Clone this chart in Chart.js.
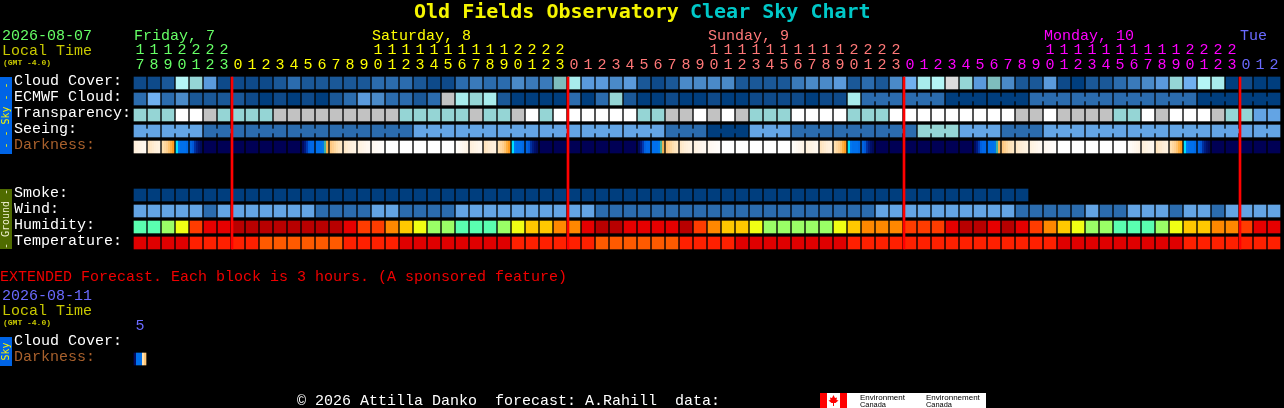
<!DOCTYPE html>
<html><head><meta charset="utf-8">
<style>html,body{margin:0;padding:0;background:#000;overflow:hidden}canvas{display:block}</style>
<script src="https://cdn.jsdelivr.net/npm/chart.js@4"></script></head>
<body><canvas id="c" width="1284" height="408"></canvas>
<script>
// ---- data ----
const hours = [17,18,19,20,21,22,23,0,1,2,3,4,5,6,7,8,9,10,11,12,13,14,15,16,17,18,19,20,21,22,23,0,1,2,3,4,5,6,7,8,9,10,11,12,13,14,15,16,17,18,19,20,21,22,23,0,1,2,3,4,5,6,7,8,9,10,11,12,13,14,15,16,17,18,19,20,21,22,23,0,1,2];
const dayLabels = ['Friday, 7','Saturday, 8','Sunday, 9','Monday, 10','Tue'];
const dayStartCols = [0,17,41,65,79];
const midnightCols = [7,31,55,79];
const rowNames = ['Cloud Cover:','ECMWF Cloud:','Transparency:','Seeing:','Darkness:','Smoke:','Wind:','Humidity:','Temperature:','Cloud Cover:','Darkness:'];
const rowPositions = [0,1,2,3,4,7,8,9,10,16.25,17.25];
const cloudCover = [1,1,2,11,9,6,1,1,1,1,2,3,2,2,2,2,2,3,3,3,2,1,1,3,4,3,3,5,4,4,8,10,6,6,5,6,2,1,2,5,5,5,5,2,2,2,2,4,5,5,6,2,3,2,5,7,10,11,12,9,6,8,5,2,2,6,1,0,2,2,3,4,5,6,9,7,11,10,0,1,0,0];
const ecmwfCloud = [3,7,3,5,2,2,2,2,1,0,1,0,1,0,2,3,6,5,3,3,2,3,13,10,9,10,2,0,0,0,0,3,0,3,9,2,0,0,1,0,0,1,0,0,1,1,1,1,0,1,1,10,3,3,3,3,3,3,0,0,0,0,0,0,3,3,3,3,3,3,3,3,3,3,3,3,0,0,0,0,0,0];
const transparency = [3,3,3,5,5,4,3,3,3,3,4,4,4,4,4,4,4,4,4,3,3,3,3,3,4,3,3,4,5,3,5,5,5,5,5,5,3,3,4,4,5,4,5,4,3,3,3,5,5,5,5,3,3,3,5,5,5,5,5,5,5,5,5,4,4,5,4,4,4,4,3,3,5,4,5,5,5,4,3,3,2,2];
const seeing = [2,2,2,2,2,1,1,1,1,1,1,1,1,1,1,1,1,1,1,1,2,2,2,2,2,2,2,2,2,2,2,2,2,2,2,2,2,2,1,1,1,0,0,0,2,2,2,1,1,1,1,1,1,1,1,1,3,3,3,2,2,2,1,1,1,2,2,2,2,2,2,2,2,2,2,2,2,2,2,2,2,2];
const darkness = ['a','b','c','d','e','n','n','n','n','n','n','n','f','g','h','i','j','k','w','w','w','w','w','l','a','b','c','d','e','n','n','n','n','n','n','n','f','g','h','i','j','k','w','w','w','w','w','l','a','b','c','d','e','n','n','n','n','n','n','n','f','g','h','i','j','k','w','w','w','w','w','l','a','b','c','d','e','n','n','n','n','n'];
const smoke = [0,0,0,0,0,0,0,0,0,0,0,0,0,0,0,0,0,0,0,0,0,0,0,0,0,0,0,0,0,0,0,0,0,0,0,0,0,0,0,0,0,0,0,0,0,0,0,0,0,0,0,0,0,0,0,0,0,0,0,0,0,0,0,0];
const wind = [2,2,2,2,2,1,2,2,2,2,2,2,2,1,1,1,1,2,2,1,1,1,1,2,2,2,2,2,2,2,2,2,2,1,1,1,1,1,1,1,1,1,1,1,1,1,1,1,1,1,1,1,1,2,2,2,2,2,2,2,2,2,2,1,1,1,1,1,2,1,1,2,2,2,1,2,2,1,2,2,2,2];
const humidity = [7,7,6,5,2,1,1,0,0,0,0,0,0,0,0,1,2,2,3,4,5,6,6,7,7,7,6,5,4,4,3,3,1,0,0,1,1,1,1,0,2,3,4,4,5,6,6,6,6,6,5,4,3,3,3,2,2,2,1,0,0,1,0,1,2,3,4,5,6,6,7,7,7,6,5,4,4,3,3,2,1,1];
const temperature = [0,0,0,0,1,1,1,1,1,2,2,2,2,2,2,1,1,1,1,0,0,0,0,0,0,0,0,1,1,1,1,1,1,2,2,2,2,2,2,1,1,1,1,0,0,0,0,0,0,0,0,1,1,1,1,1,1,1,1,1,1,1,1,1,1,1,0,0,0,0,0,0,0,0,0,1,1,1,1,1,1,1];
const extDarkness = ['x'];

// ---- palettes ----
const cloudColors = ['#003E7E','#0E4A8A','#1A5898','#2B6CAE','#3A7ABA','#4A8AC8','#5A9ADC','#70B0F0','#7EBDBD','#95D5D5','#A8ECEC','#B4F6F6','#DCDCDC','#C2C2C2'];
const skyTones = ['#003E7E','#2B6CAE','#63A4E4','#95D5D5','#C2C2C2','#FFFFFF'];
const humidityColors = ['#B80000','#E60000','#FF3C00','#FF8800','#FFC800','#F0FF14','#9AFF66','#5AFFB0'];
const temperatureColors = ['#E00000','#FF2000','#FF5A00'];
const darknessStrips = {
  a:['#FFF0DC','#FFF2E0','#FFF4E4','#FFF5E8','#FFF7EC','#FFF8F0'],
  b:['#FFE4BE','#FFE8C8','#FFEBD0','#FFEED8','#FFF0DC','#FFF2E0'],
  c:['#FFE0B0','#FFD8A0','#FFD090','#FFC470','#FFB040','#FF9C20'],
  d:['#00E0FF','#0078F0','#0070EC','#0070EC','#0070EC','#006AE6'],
  e:['#0064E0','#0058D8','#0030A0','#001C80','#00106A','#000A5C'],
  n:['#000055'],
  f:['#000A60','#001A80','#0038B0','#0060E0','#0068E8','#0068E8'],
  g:['#0070EC','#0070EC','#0070EC','#0078E8','#40B0A0','#F0B050'],
  h:['#FFC880','#FFD090','#FFD8A0','#FFE0B0','#FFE4BC','#FFE8C4'],
  i:['#FFE8C8','#FFECD0','#FFEED8','#FFF0DC','#FFF2E0','#FFF4E4'],
  j:['#FFF2E0','#FFF4E4','#FFF5E8','#FFF6EC','#FFF8F0','#FFF9F2'],
  k:['#FFF8F0','#FFF9F3','#FFFAF5','#FFFBF7','#FFFCF9','#FFFDFB'],
  l:['#FFFDFA','#FFFBF6','#FFF9F2','#FFF7EE','#FFF6EA','#FFF4E6'],
  w:['#FFFFFF'],
  x:['#000A60','#0070EC','#0070EC','#0070EC','#FFE0B0','#FFC878']
};
const dayColors = ['#66FF66','#FFFF00','#FF7878','#FF00FF','#6A6AFF'];
const MONO = '"Liberation Mono", monospace';

// ---- helpers ----
const cellHalf = 0.375, linkHalf = 0.125;
function cells(row, values, colorOf){
  return {data: values.map((v,i)=>({x:i, y:[row-cellHalf,row+cellHalf]})),
          backgroundColor: values.map(colorOf), barThickness:12};
}
function stripCells(row, values){
  return {data: values.map((v,i)=>({x:i, y:[row-cellHalf,row+cellHalf]})), barThickness:12,
    backgroundColor: ctx=>{
      const strips = darknessStrips[values[ctx.dataIndex]];
      if(!strips) return '#000055';
      if(strips.length===1) return strips[0];
      const px = ctx.chart.scales.x.getPixelForValue(ctx.dataIndex);
      if(!Number.isFinite(px)) return strips[0];
      const g = ctx.chart.ctx.createLinearGradient(px-6,0,px+6,0);
      strips.forEach((c,k)=>{g.addColorStop(k/strips.length,c);g.addColorStop((k+1)/strips.length,c);});
      return g;
    }};
}
// narrow bridges between cells of the same 3-hour block
function links(row, values, first, phase, colors){
  const out=[],col=[];
  for(let i=first;i<values.length-1;i++){
    if((i+1-phase)%3===0) continue;
    out.push({x:i+0.5,y:[row-linkHalf,row+linkHalf]}); col.push(colors[values[i]]);
  }
  return {data:out,backgroundColor:col,barThickness:2};
}
const dayOfCol = i=>{ if(i<7)return 0; if(i<31)return 1; if(i<55)return 2; if(i<79)return 3; return 4; };

const lastRow = rowPositions[8]+cellHalf;
const datasets = [
  {data:midnightCols.map(c=>({x:c-3/7,y:[-cellHalf,lastRow]})),backgroundColor:'#FF0000',barThickness:2},
  cells(0,cloudCover,v=>cloudColors[v]),
  cells(1,ecmwfCloud,v=>cloudColors[v]),
  links(1,ecmwfCloud,52,52,cloudColors),
  cells(2,transparency,v=>skyTones[v]),
  cells(3,seeing,v=>skyTones[v]),
  links(3,seeing,0,2,skyTones),
  stripCells(4,darkness),
  cells(7,smoke,v=>skyTones[v]),
  cells(8,wind,v=>skyTones[v]),
  cells(9,humidity,v=>humidityColors[v]),
  cells(10,temperature,v=>temperatureColors[v]),
  stripCells(17.25,extDarkness)
].map(d=>Object.assign(d,{stack:'grid',borderWidth:0,borderSkipped:false,categoryPercentage:1,barPercentage:1}));

// ---- text and side labels that sit outside the axes ----
const headerText = {
  title:'Old Fields Observatory ', titleSky:'Clear Sky Chart',
  date:'2026-08-07', extDate:'2026-08-11', local:'Local Time', gmt:'(GMT -4.0)',
  extended:'EXTENDED Forecast. Each block is 3 hours. (A sponsored feature)',
  footer:'\u00A9 2026 Attilla Danko  forecast: A.Rahill  data:'
};
const decor = {id:'decor', afterDraw(chart){
  const c=chart.ctx, X=chart.scales.x, Y=chart.scales.y;
  const T=(s,x,y,col,font)=>{c.font=font||('15px '+MONO);c.fillStyle=col;c.textAlign='left';c.textBaseline='alphabetic';c.fillText(s,x,y);};
  c.save();
  const bold='bold 20px "DejaVu Sans Mono", monospace';
  T(headerText.title,414,18,'#F5F500',bold);
  T(headerText.titleSky,690,18,'#00C8C8',bold);
  T(headerText.date,2,40,'#66FF66');
  T(headerText.local,2,55,'#C8C800');
  T(headerText.gmt,3,65,'#C8C800','bold 8px '+MONO);
  dayLabels.forEach((d,i)=>T(d,X.getPixelForValue(dayStartCols[i]-0.5)+1,40,dayColors[i]));
  T(headerText.extended,0,281,'#F00000');
  T(headerText.extDate,2,300,'#6A6AFF');
  T(headerText.local,2,315,'#C8C800');
  T(headerText.gmt,3,325,'#C8C800','bold 8px '+MONO);
  T('5',X.getPixelForValue(0)-4.5,330,'#6A6AFF');
  T(headerText.footer,297,405,'#FFFFFF');
  // side tabs
  const tab=(r0,r1,fill,txt,col)=>{
    const y0=Y.getPixelForValue(r0),y1=Y.getPixelForValue(r1);
    c.fillStyle=fill;c.fillRect(0,y0,12,y1-y0);
    c.save();c.translate(6,(y0+y1)/2);c.rotate(-Math.PI/2);
    c.font='10px "DejaVu Sans Mono", monospace';c.fillStyle=col;c.textAlign='center';c.textBaseline='middle';
    c.fillText(txt,0,0);c.restore();
  };
  tab(-cellHalf,4+cellHalf+0.0625,'#0064E6','- - Sky - -','#F5F500');
  tab(7-cellHalf,10+cellHalf,'#4F6B00','- Ground -','#F0F0D0');
  tab(16.25-cellHalf,17.25+cellHalf+0.0625,'#0064E6','Sky','#F5F500');
  // agency logo
  c.fillStyle='#FFFFFF';c.fillRect(820,393,166,15);
  c.fillStyle='#FF0000';c.fillRect(820,393,7,15);c.fillRect(840,393,7,15);
  c.beginPath();[[833.5,395],[835,398],[837,397.5],[836.5,400],[838.5,400.5],[835.5,403],[834,403],[834,406],[833,406],[833,403],[831.5,403],[828.5,400.5],[830.5,400],[830,397.5],[832,398]].forEach((p,i)=>i?c.lineTo(p[0],p[1]):c.moveTo(p[0],p[1]));c.closePath();c.fill();
  c.fillStyle='#000';c.font='8px "Liberation Sans", sans-serif';c.textAlign='left';c.textBaseline='alphabetic';
  c.fillText('Environment',860,400,52);c.fillText('Canada',860,407,26);
  c.fillText('Environnement',926,400,60);c.fillText('Canada',926,407,26);
  c.restore();
}};

new Chart(document.getElementById('c'),{
  type:'bar',
  data:{datasets},
  plugins:[decor],
  options:{
    responsive:false, animation:false, devicePixelRatio:1,
    layout:{padding:{left:14,right:3,top:0,bottom:5}},
    plugins:{legend:{display:false},tooltip:{enabled:false},title:{display:false}},
    scales:{
      x:{type:'linear',position:'top',offset:false,min:-0.5,max:81.5,
        grid:{display:false,drawTicks:false,offset:false},border:{display:false},
        afterFit:s=>{s.height=75;s.paddingLeft=0;s.paddingRight=0;},
        afterBuildTicks:s=>{s.ticks=hours.map((h,i)=>({value:i}));},
        ticks:{autoSkip:false,maxRotation:0,minRotation:0,padding:2,
          font:{family:MONO,size:15,lineHeight:'15px'},
          color:ctx=>dayColors[dayOfCol(ctx.index)],
          callback:(v,i)=>{const h=hours[i];return [h>=10?String(Math.floor(h/10)):'',String(h%10)];}}},
      y:{type:'linear',reverse:true,stacked:false,min:-0.5,max:20,
        grid:{display:false,drawTicks:false},border:{display:false},
        afterFit:s=>{s.width=119;s.paddingTop=0;s.paddingBottom=0;},
        afterBuildTicks:s=>{s.ticks=rowPositions.map(r=>({value:r-linkHalf}));},
        ticks:{autoSkip:false,crossAlign:'far',padding:0,
          font:{family:MONO,size:15},
          color:ctx=>rowNames[ctx.index]==='Darkness:'?'#A8602C':'#FFFFFF',
          callback:(v,i)=>rowNames[i]}}
    }
  }
});
</script></body></html>
